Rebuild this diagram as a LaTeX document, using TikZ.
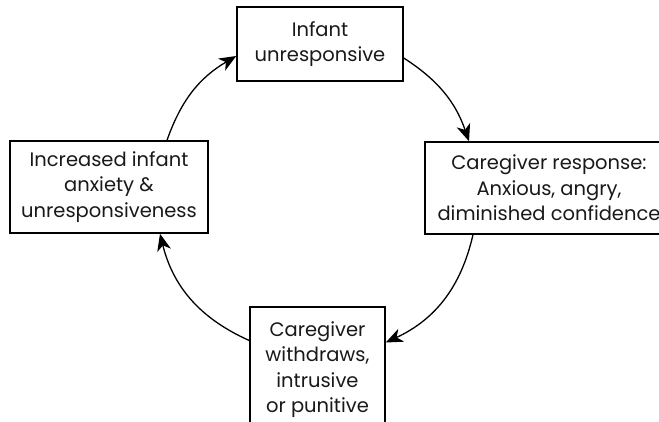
\documentclass[tikz,border=0pt]{standalone}
\usepackage{fontspec}
\setmainfont{Poppins}
\usetikzlibrary{arrows.meta}
\tikzset{
  stagebox/.style={draw=black, line width=1.5pt, inner sep=0pt, align=center,
    font=\fontsize{19.5}{25.5}\selectfont, text=black!90},
  cyclearrow/.style={line width=1.3pt, -{Stealth[length=17pt,width=14pt,inset=5pt]}}
}
\begin{document}
\begin{tikzpicture}[x=1pt,y=1pt]
  \clip (0,0) rectangle (659,421);
  \useasboundingbox (0,0) rectangle (659,421);
  \fill[white] (0,0) rectangle (659,421);

  % the four stages of the cycle
  \node[stagebox, minimum width=166pt, minimum height=74pt] (infant) at (320,377)
    {Infant\\unresponsive};
  \node[stagebox, minimum width=248pt, minimum height=92pt] (response) at (549,233)
    {Caregiver response:\\Anxious, angry,\\diminished confidence};
  \node[stagebox, minimum width=135pt, minimum height=125pt] (withdraw) at (317.5,51.5)
    {Caregiver\\withdraws,\\intrusive\\or punitive};
  \node[stagebox, minimum width=198pt, minimum height=92pt] (anxiety) at (109,234)
    {Increased infant\\anxiety \&\\unresponsiveness};

  % clockwise connectors
  \draw[cyclearrow] ([yshift=-14pt]infant.east) to[bend left=19] ([xshift=-80pt]response.north);
  \draw[cyclearrow] ([xshift=-76pt]response.south) to[bend left=26] ([yshift=27pt]withdraw.east);
  \draw[cyclearrow] ([yshift=29pt]withdraw.west) to[bend left=26] ([xshift=51pt]anxiety.south);
  \draw[cyclearrow] ([xshift=58pt]anxiety.north) to[bend left=20] ([yshift=-12pt]infant.west);
\end{tikzpicture}
\end{document}
